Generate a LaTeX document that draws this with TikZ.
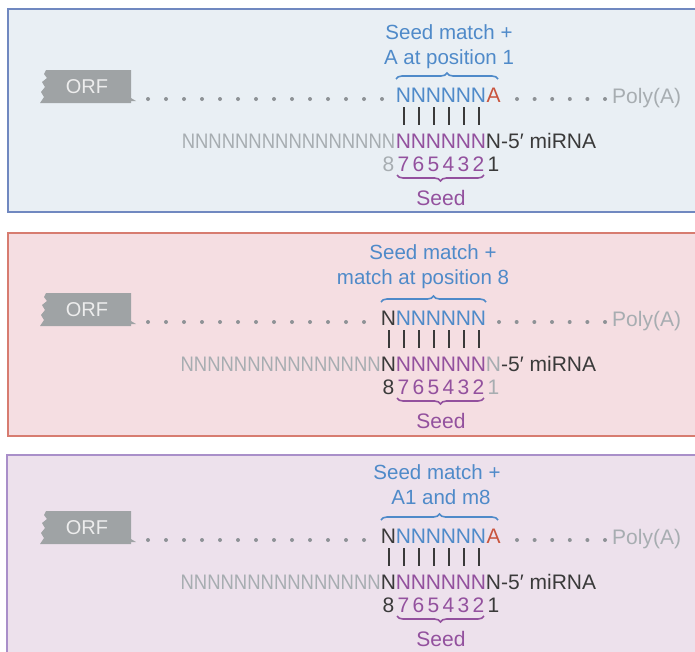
\documentclass[tikz,border=0pt]{standalone}
\usepackage{fontspec}
\setmainfont{Liberation Sans}
\newfontfamily\condfont{Liberation Sans}[FakeStretch=0.88]
\usetikzlibrary{decorations.pathreplacing}
\definecolor{pfillA}{HTML}{E9EFF4}
\definecolor{pdrawA}{HTML}{7088C0}
\definecolor{pfillB}{HTML}{F5DEE2}
\definecolor{pdrawB}{HTML}{D77C70}
\definecolor{pfillC}{HTML}{EDE1EC}
\definecolor{pdrawC}{HTML}{A98FC9}
\definecolor{tblue}{HTML}{4F8AC9}
\definecolor{spurple}{HTML}{93519E}
\definecolor{ared}{HTML}{C9553E}
\definecolor{ngray}{HTML}{A7ADB1}
\definecolor{ndark}{HTML}{3A3A3A}
\definecolor{dotgray}{HTML}{8E9296}
\definecolor{orfgray}{HTML}{9FA3A5}
\definecolor{orftxt}{HTML}{EDEDED}
\begin{document}
\begin{tikzpicture}[x=1pt,y=-1pt,
  every node/.style={inner sep=0pt,font=\fontsize{21}{24}\selectfont},
  panelbox/.style={line width=2pt},
  nuc/.style={anchor=base},
  ttl/.style={anchor=base,text=tblue,font=\fontsize{20.5}{24}\selectfont},
  pairbar/.style={line width=2pt,draw=ndark},
  tbrace/.style={decorate,decoration={brace,amplitude=6pt},line width=1.6pt,draw=tblue},
  sbrace/.style={decorate,decoration={brace,amplitude=6pt},line width=1.6pt,draw=spurple},
  orfshape/.style={fill=orfgray},
  dotc/.style={fill=dotgray}]
\useasboundingbox (0,0) rectangle (695,651);
\clip (0,0) rectangle (695,651);
% panels
\draw[panelbox,fill=pfillA,draw=pdrawA] (8,9) rectangle (720,212);
\draw[panelbox,fill=pfillB,draw=pdrawB] (8,233) rectangle (720,436);
\draw[panelbox,fill=pfillC,draw=pdrawC] (7,455) rectangle (720,700);
% common content
\foreach \i/\oy in {1/0,2/223,3/441}{
 \begin{scope}[shift={(0,\oy)}]
  \fill[orfshape] (131,70) -- (46,70) -- (44,74) -- (47,78) -- (42,82) -- (45,87) -- (41,92) -- (44,97) -- (40,103) -- (131,103) -- (131,101) -- (136,101) -- (131,98) -- cycle;
  \node[text=orftxt,font=\fontsize{20}{22}\selectfont] (orf\i) at (87,87) {ORF};
  \node[anchor=base west,text=ngray] (poly\i) at (612,103) {Poly(A)};
  \node[anchor=base west,text=ndark] (mir\i) at (501,148) {-5′ miRNA};
  \foreach \k in {2,...,7}{
    \node[nuc,text=tblue] (t\i\k) at ({508.5-15*\k},102) {N};
    \node[nuc,text=spurple] (m\i\k) at ({508.5-15*\k},148) {N};
    \node[nuc,text=spurple] (d\i\k) at ({508.5-15*\k},171) {\k};
    \draw[pairbar] ([yshift=-5pt]t\i\k.south) -- ([yshift=8pt]m\i\k.north);
  }
  \draw[sbrace] (484,175) -- (397,175);
  \node[anchor=base,text=spurple] (seed\i) at (441,205) {Seed};
 \end{scope}
}
% ---------- panel 1
\node[ttl] (h1a) at (449,39) {Seed match +};
\node[ttl] (h1b) at (449,64) {A at position 1};
\draw[tbrace] (396,79) -- (498,79);
\node[nuc,text=ared] (t11) at (493.5,102) {A};
\foreach \j in {0,...,13}{\fill[dotc] ({148+18*\j},99) circle (2pt);}
\foreach \j in {0,...,5}{\fill[dotc] ({517+17.6*\j},99) circle (2pt);}
\node[anchor=base east,text=ngray,font=\condfont\fontsize{21}{24}\selectfont] (g1) at (395.5,148) {NNNNNNNNNNNNNNNN};
\node[nuc,text=ndark] (m11) at (493.5,148) {N};
\node[nuc,text=ngray] (d18) at (388.5,171) {8};
\node[nuc,text=ndark] (d11) at (493.5,171) {1};
% ---------- panel 2
\begin{scope}[shift={(0,223)}]
\node[ttl] (h2a) at (433,36) {Seed match +};
\node[ttl] (h2b) at (423,61) {match at position 8};
\draw[tbrace] (381,79) -- (486,79);
\node[nuc,text=ndark] (t28) at (388.5,102) {N};
\foreach \j in {0,...,12}{\fill[dotc] ({148+18*\j},99) circle (2pt);}
\foreach \j in {0,...,6}{\fill[dotc] ({499+17.67*\j},99) circle (2pt);}
\node[anchor=base east,text=ngray,font=\condfont\fontsize{21}{24}\selectfont] (g2) at (381,148) {NNNNNNNNNNNNNNN};
\node[nuc,text=ndark] (m28) at (388.5,148) {N};
\node[nuc,text=ngray] (m21) at (493.5,148) {N};
\draw[pairbar] ([yshift=-5pt]t28.south) -- ([yshift=8pt]m28.north);
\node[nuc,text=ndark] (d28) at (388.5,171) {8};
\node[nuc,text=ngray] (d21) at (493.5,171) {1};
\end{scope}
% ---------- panel 3
\begin{scope}[shift={(0,441)}]
\node[ttl] (h3a) at (437,38) {Seed match +};
\node[ttl] (h3b) at (441,63) {A1 and m8};
\draw[tbrace] (381,79) -- (498,79);
\node[nuc,text=ndark] (t38) at (388.5,102) {N};
\node[nuc,text=ared] (t31) at (493.5,102) {A};
\foreach \j in {0,...,12}{\fill[dotc] ({148+18*\j},99) circle (2pt);}
\foreach \j in {0,...,5}{\fill[dotc] ({517+17.6*\j},99) circle (2pt);}
\node[anchor=base east,text=ngray,font=\condfont\fontsize{21}{24}\selectfont] (g3) at (381,148) {NNNNNNNNNNNNNNN};
\node[nuc,text=ndark] (m38) at (388.5,148) {N};
\node[nuc,text=ndark] (m31) at (493.5,148) {N};
\draw[pairbar] ([yshift=-5pt]t38.south) -- ([yshift=8pt]m38.north);
\node[nuc,text=ndark] (d38) at (388.5,171) {8};
\node[nuc,text=ndark] (d31) at (493.5,171) {1};
\end{scope}
\end{tikzpicture}
\end{document}
